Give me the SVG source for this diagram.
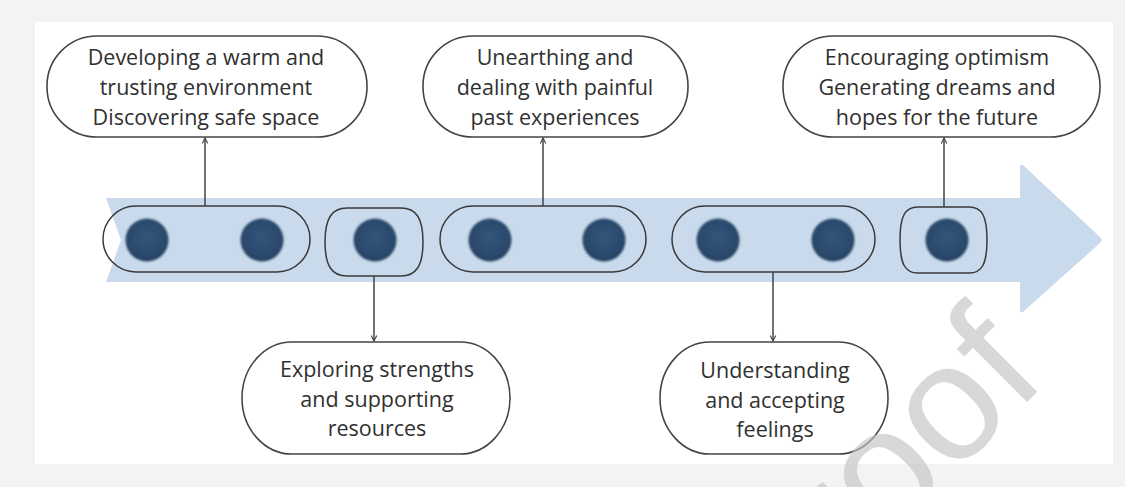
<svg xmlns="http://www.w3.org/2000/svg" width="1125" height="487" viewBox="0 0 1125 487">
<defs>
<style>
.box{fill:#ffffff;stroke:#454545;stroke-width:1.6}
.pill{fill:none;stroke:#3a3a3a;stroke-width:1.5}
.lbl{font-family:"Open Sans","Noto Sans","Liberation Sans",sans-serif;font-size:21.5px;fill:#303030;text-anchor:middle}
.dot{fill:url(#dotg);filter:url(#soft)}
.con{stroke:#454545;stroke-width:1.5;fill:none;marker-end:url(#ah)}
.wm{font-family:"Liberation Sans",Arial,sans-serif;font-size:165px;fill:#c4c4c4;opacity:0.65}
</style>
<radialGradient id="dotg" cx="50%" cy="45%" r="55%">
<stop offset="0" stop-color="#33557b"/>
<stop offset="0.75" stop-color="#2b4a6d"/>
<stop offset="1" stop-color="#243f5e"/>
</radialGradient>
<filter id="soft" x="-20%" y="-20%" width="140%" height="140%">
<feGaussianBlur stdDeviation="0.9"/>
</filter>
<marker id="ah" viewBox="0 0 10 10" refX="9" refY="5" markerWidth="7" markerHeight="7" markerUnits="userSpaceOnUse" orient="auto">
<path d="M1,1 L9,5 L1,9" fill="none" stroke="#454545" stroke-width="1.6"/>
</marker>
</defs>
<rect x="0" y="0" width="1125" height="487" fill="#f3f3f3"/>
<rect x="35" y="22" width="1078" height="442" fill="#ffffff"/>
<g id="timeline-arrow">
<path d="M106,198 L1020,198 L1020,166 Q1021,163 1024,166 L1100,237 Q1103,240 1100,243 L1024,311 Q1021,314 1020,311 L1020,282 L106,282 L121,240 Z" fill="#c9daec"/>
</g>
<g id="connectors">
<line class="con" x1="205" y1="206" x2="205" y2="138"/>
<line class="con" x1="543" y1="206" x2="543" y2="138"/>
<line class="con" x1="944" y1="207" x2="944" y2="138"/>
<line class="con" x1="374" y1="276" x2="374" y2="341"/>
<line class="con" x1="773" y1="272" x2="773" y2="341"/>
</g>
<g id="stage1">
<rect class="pill" x="103" y="206" width="207" height="66" rx="33" ry="33"/>
<circle class="dot" cx="147" cy="240" r="21.5"/>
<circle class="dot" cx="262" cy="240" r="21.5"/>
</g>
<g id="stage2">
<path class="pill" d="M347,208 H401 C416,208 423,218 423,242 C423,266 416,276 401,276 H347 C332,276 325,266 325,242 C325,218 332,208 347,208 Z"/>
<circle class="dot" cx="375" cy="240" r="21.5"/>
</g>
<g id="stage3">
<rect class="pill" x="440" y="206" width="206" height="66" rx="33" ry="33"/>
<circle class="dot" cx="490" cy="240" r="21.5"/>
<circle class="dot" cx="604" cy="240" r="21.5"/>
</g>
<g id="stage4">
<rect class="pill" x="672" y="206" width="203" height="66" rx="33" ry="33"/>
<circle class="dot" cx="718" cy="240" r="21.5"/>
<circle class="dot" cx="833" cy="240" r="21.5"/>
</g>
<g id="stage5">
<path class="pill" d="M918,207 H969 C982,207 987,216 987,240 C987,264 982,273 969,273 H918 C905,273 900,264 900,240 C900,216 905,207 918,207 Z"/>
<circle class="dot" cx="947" cy="240" r="21.5"/>
</g>
<g id="box-warm">
<rect class="box" x="47" y="36" width="320" height="101" rx="50" ry="50"/>
<text class="lbl" x="206" y="65">Developing a warm and</text>
<text class="lbl" x="206" y="95">trusting environment</text>
<text class="lbl" x="206" y="125">Discovering safe space</text>
</g>
<g id="box-painful">
<rect class="box" x="423" y="36" width="265" height="101" rx="50" ry="50"/>
<text class="lbl" x="555" y="65">Unearthing and</text>
<text class="lbl" x="555" y="95">dealing with painful</text>
<text class="lbl" x="555" y="125">past experiences</text>
</g>
<g id="box-optimism">
<rect class="box" x="783" y="36" width="317" height="101" rx="50" ry="50"/>
<text class="lbl" x="937" y="65">Encouraging optimism</text>
<text class="lbl" x="937" y="95">Generating dreams and</text>
<text class="lbl" x="937" y="125">hopes for the future</text>
</g>
<g id="box-strengths">
<rect class="box" x="242" y="342" width="268" height="112" rx="50" ry="56"/>
<text class="lbl" x="377" y="377">Exploring strengths</text>
<text class="lbl" x="377" y="407">and supporting</text>
<text class="lbl" x="377" y="436">resources</text>
</g>
<g id="box-feelings">
<rect class="box" x="660" y="342" width="228" height="112" rx="50" ry="56"/>
<text class="lbl" x="775" y="378">Understanding</text>
<text class="lbl" x="775" y="408">and accepting</text>
<text class="lbl" x="775" y="437">feelings</text>
</g>
<text class="wm" transform="translate(848,581) rotate(-45)">roof</text>
</svg>
